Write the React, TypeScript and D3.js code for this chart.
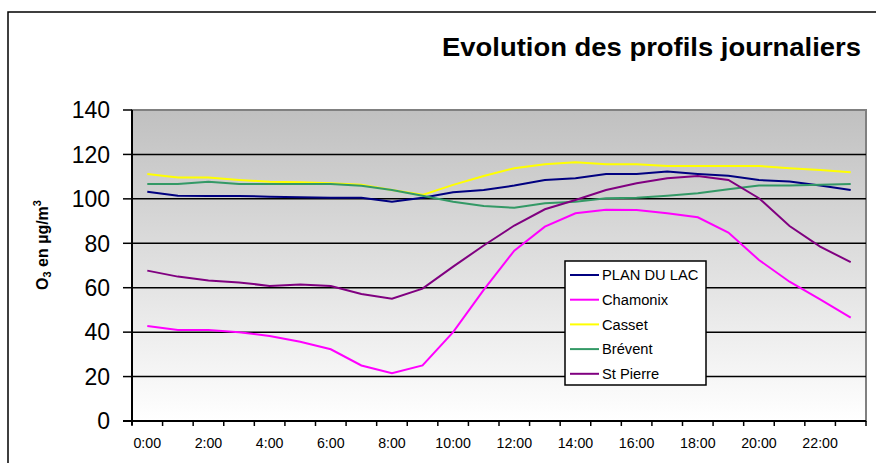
import React from "react";
import * as d3 from "d3";

const hours = Array.from({ length: 24 }, (_, i) => `${i}:00`);
const tickLabels = ["0:00", "2:00", "4:00", "6:00", "8:00", "10:00", "12:00", "14:00", "16:00", "18:00", "20:00", "22:00"];
const yTicks = [0, 20, 40, 60, 80, 100, 120, 140];

const planDuLac = [103.2, 101.4, 101.3, 101.3, 101, 100.7, 100.5, 100.5, 98.7, 100.5, 103, 104, 106, 108.5, 109.3, 111.2, 111.2, 112.3, 111.2, 110.4, 108.5, 107.8, 106, 104];
const chamonix = [42.8, 41, 41, 40, 38.3, 35.7, 32.3, 25, 21.5, 25, 40, 59, 76.7, 87.5, 93.5, 95.1, 95, 93.5, 91.7, 84.8, 72.5, 62.7, 54.8, 46.5];
const casset = [111.2, 109.6, 109.6, 108.5, 107.7, 107.5, 107, 106.3, 104, 101.8, 106.3, 110.3, 113.8, 115.6, 116.5, 115.6, 115.6, 114.8, 114.8, 114.8, 114.8, 113.8, 113, 112];
const brevent = [106.7, 106.7, 107.7, 106.7, 106.7, 106.7, 106.7, 105.9, 104, 101.4, 98.7, 96.8, 96, 98, 98.7, 100.3, 100.5, 101.4, 102.5, 104.3, 106, 106, 106.3, 106.7];
const stPierre = [67.7, 65, 63.2, 62.4, 60.8, 61.5, 60.8, 57.2, 55, 59.6, 69.5, 79, 88, 95.3, 99.5, 104, 107, 109.3, 110.3, 108.5, 100.3, 87.8, 78.5, 71.5];

const seriesNames = ["PLAN DU LAC", "Chamonix", "Casset", "Brévent", "St Pierre"];
const seriesColors = ["#000080", "#FF00FF", "#FFFF00", "#339966", "#800080"];
const seriesData = [planDuLac, chamonix, casset, brevent, stPierre];

export default function App() {
  const W = 876, H = 463;
  const left = 132, right = 866, top = 110, bottom = 421;
  const x = d3.scaleBand<string>().domain(hours).range([left, right]).padding(0);
  const y = d3.scaleLinear().domain([0, 140]).range([bottom, top]);
  const line = d3
    .line<number>()
    .x((_, i) => (x(hours[i]) as number) + x.bandwidth() / 2)
    .y((d) => y(d));
  const font = "Liberation Sans, Arial, sans-serif";
  const boundaries = d3.range(25).map((i) => left + i * x.bandwidth());

  return (
    <svg width={W} height={H} style={{ position: "absolute", left: 0, top: 0 }} fontFamily={font}>
      <defs>
        <linearGradient id="bg" x1="0" y1="0" x2="0" y2="1">
          <stop offset="0%" stopColor="#c0c0c0" />
          <stop offset="100%" stopColor="#ffffff" />
        </linearGradient>
      </defs>
      <rect x={0} y={0} width={W} height={H} fill="#ffffff" />
      <rect x={8} y={12} width={W} height={H} fill="none" stroke="#000" strokeWidth={1.5} />
      <text x={861} y={56} textAnchor="end" fontSize={25} fontWeight="bold" fill="#000" textLength={419} lengthAdjust="spacingAndGlyphs">
        Evolution des profils journaliers
      </text>
      <rect x={left} y={top} width={right - left} height={bottom - top} fill="url(#bg)" stroke="#808080" strokeWidth={2} />
      {yTicks.filter((t) => t > 0 && t < 140).map((t) => (
        <line key={`g${t}`} x1={left} x2={right} y1={y(t)} y2={y(t)} stroke="#000" strokeWidth={1.5} />
      ))}
      {yTicks.map((t) => (
        <g key={`yt${t}`}>
          <line x1={left - 9} x2={left} y1={y(t)} y2={y(t)} stroke="#000" strokeWidth={1.5} />
          <text x={110} y={y(t)} dy="0.36em" textAnchor="end" fontSize={23} fill="#000">
            {t}
          </text>
        </g>
      ))}
      <line x1={left} x2={left} y1={top} y2={bottom + 4} stroke="#000" strokeWidth={2} />
      <line x1={left - 9} x2={right} y1={bottom} y2={bottom} stroke="#000" strokeWidth={2} />
      {boundaries.map((bx, i) => (
        <line key={`xt${i}`} x1={bx} x2={bx} y1={bottom} y2={bottom + 5} stroke="#000" strokeWidth={1.5} />
      ))}
      {tickLabels.map((lbl) => (
        <text
          key={lbl}
          x={(x(lbl) as number) + x.bandwidth() / 2}
          y={448}
          textAnchor="middle"
          fontSize={14.2}
          fill="#000"
        >
          {lbl}
        </text>
      ))}
      <text transform="translate(48,245) rotate(-90)" textAnchor="middle" fontSize={16} fontWeight="bold" fill="#000">
        O<tspan fontSize={11} dy={3}>3</tspan>
        <tspan dy={-3}> en µg/m</tspan>
        <tspan fontSize={11} dy={-7}>3</tspan>
      </text>
      {seriesData.map((s, k) => (
        <path key={seriesNames[k]} d={line(s) as string} fill="none" stroke={seriesColors[k]} strokeWidth={2} />
      ))}
      <rect x={565} y={261} width={141} height={124} fill="#fff" stroke="#000" strokeWidth={1.5} />
      {seriesNames.map((n, k) => {
        const ly = 275 + k * 24.7;
        return (
          <g key={`l${n}`}>
            <line x1={570} x2={599} y1={ly} y2={ly} stroke={seriesColors[k]} strokeWidth={2} />
            <text x={602} y={ly} dy="0.36em" fontSize={14.7} fill="#000">
              {n}
            </text>
          </g>
        );
      })}
    </svg>
  );
}
